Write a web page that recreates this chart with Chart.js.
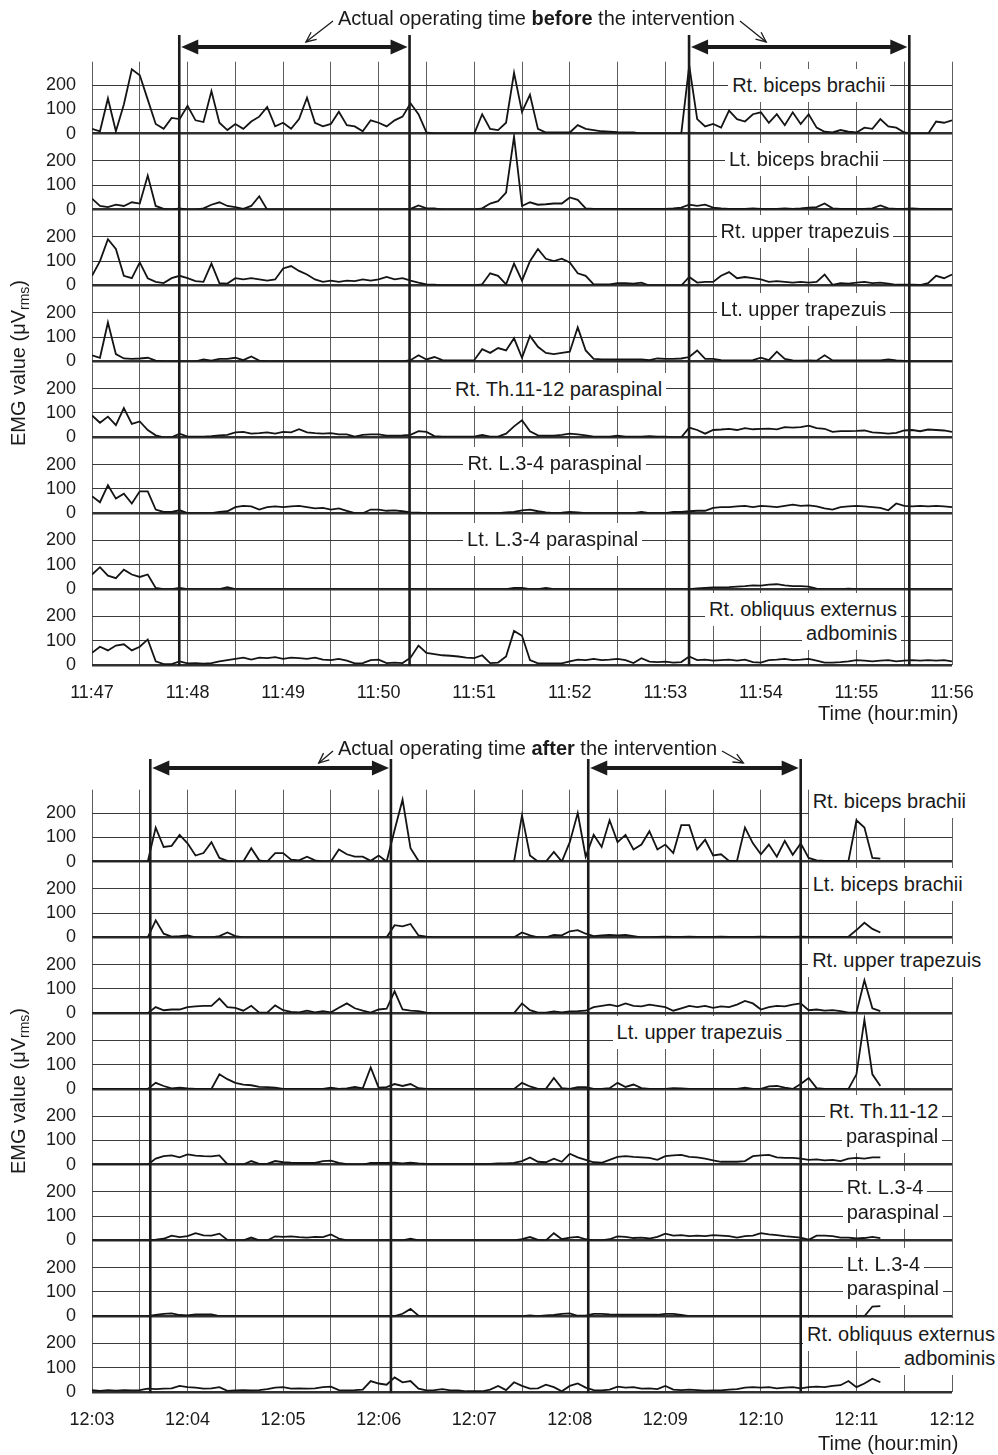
<!DOCTYPE html>
<html>
<head>
<meta charset="utf-8">
<script src="https://cdn.jsdelivr.net/npm/chart.js@4.4.1/dist/chart.umd.min.js"></script>
<style>
html,body{margin:0;padding:0;background:#fff;}
#wrap{position:relative;width:998px;height:1455px;overflow:hidden;font-family:"Liberation Sans",Arial,Helvetica,sans-serif;color:#1a1a1a;}
.panel{position:absolute;left:0;width:998px;}
canvas{display:block;position:absolute;left:0;top:0;}
.lab{position:absolute;background:#fff;font-size:20px;line-height:21px;padding:6px 4px;white-space:nowrap;}
.hdr{position:absolute;font-size:20px;line-height:21px;white-space:nowrap;}
.ttl{position:absolute;font-size:20px;line-height:21px;white-space:nowrap;}
.ytl{position:absolute;font-size:20px;line-height:22px;white-space:nowrap;transform:rotate(-90deg);}
.ytl sub{font-size:14px;vertical-align:-4px;line-height:0;}
</style>
</head>
<body>
<div id="wrap">
  <div class="panel" id="p0" style="top:0;height:728px"><canvas id="c0" width="998" height="728"></canvas></div>
  <div class="panel" id="p1" style="top:728px;height:727px"><canvas id="c1" width="998" height="727"></canvas></div>
</div>
<script>
// ---------------- data ----------------
// samples every 5 s, starting at the first tick label of each panel
const sampleStepSec = 5;
const xTickLabelsBefore = ['11:47','11:48','11:49','11:50','11:51','11:52','11:53','11:54','11:55','11:56'];
const xTickLabelsAfter  = ['12:03','12:04','12:05','12:06','12:07','12:08','12:09','12:10','12:11','12:12'];
const yTickValues = [0, 100, 200];
const yTickLabels = ['0', '100', '200'];
const musclesBefore = [['Rt. biceps brachii'],['Lt. biceps brachii'],['Rt. upper trapezuis'],['Lt. upper trapezuis'],['Rt. Th.11-12 paraspinal'],['Rt. L.3-4 paraspinal'],['Lt. L.3-4 paraspinal'],['Rt. obliquus externus','adbominis']];
const musclesAfter  = [['Rt. biceps brachii'],['Lt. biceps brachii'],['Rt. upper trapezuis'],['Lt. upper trapezuis'],['Rt. Th.11-12','paraspinal'],['Rt. L.3-4','paraspinal'],['Lt. L.3-4','paraspinal'],['Rt. obliquus externus','adbominis']];
// actual operating periods, seconds after the first tick label
const operatingBefore = [[54.8, 199.4], [374.9, 513.2]];
const operatingAfter  = [[36.6, 187.7], [311.6, 445.0]];

const before_RtBiceps = [20,10,145,10,120,265,240,140,40,20,65,60,115,55,48,175,45,15,40,20,50,70,110,30,45,20,60,148,45,30,40,90,35,30,10,55,45,
 30,55,70,125,80,5,0,0,0,0,0,0,80,20,15,45,250,90,160,20,5,5,5,5,35,20,15,10,8,6,5,5,0,0,0,0,
 0,0,280,60,30,40,25,95,60,50,80,88,45,80,35,88,40,80,25,8,5,15,8,5,25,20,60,30,25,5,0,0,0,50,45,55];
const before_LtBiceps = [45,15,10,20,15,30,25,140,15,3,0,5,0,0,5,20,30,15,10,3,15,55,0,0,0,0,0,0,0,0,0,0,0,0,0,0,0,
 0,0,0,3,17,5,5,0,0,0,0,0,5,25,35,70,300,15,30,20,22,25,25,50,40,5,3,3,3,3,3,3,3,3,3,3,
 5,8,20,15,20,8,5,3,3,3,5,3,3,3,5,3,5,8,10,25,5,3,3,3,3,5,17,5,3,3,5,3,3,2,2,2];
const before_RtTrap = [40,100,190,150,40,30,95,30,15,10,30,40,30,18,15,90,10,8,30,25,30,25,20,25,70,80,60,45,25,15,20,15,20,18,25,20,25,
 35,25,30,20,12,5,3,0,0,0,0,0,5,50,40,5,90,20,100,150,110,100,110,95,50,40,5,5,5,10,10,8,12,0,0,0,
 0,0,35,12,15,15,40,55,30,35,30,25,15,18,15,12,15,12,15,45,3,10,8,12,15,10,12,8,3,3,3,2,10,40,30,45];
const before_LtTrap = [25,15,160,30,12,10,12,15,3,0,0,0,0,0,8,3,10,10,15,5,20,3,0,0,0,0,0,0,0,0,0,0,0,0,0,0,0,
 0,0,0,5,25,8,18,5,4,4,4,5,50,35,55,45,95,15,105,60,35,30,35,40,140,45,10,8,8,8,8,8,8,5,12,10,
 10,12,18,45,10,10,5,4,4,4,5,15,5,40,10,4,3,4,3,25,4,4,4,4,4,4,4,8,4,2,0,0,0,0,0,0];
const before_RtTh1112 = [90,60,85,50,120,55,65,30,8,0,0,15,3,3,3,5,8,10,20,22,15,17,20,15,22,20,33,20,17,15,17,12,12,3,10,12,12,
 7,7,8,10,25,22,5,3,3,3,3,3,10,3,3,15,45,70,25,8,7,7,10,15,12,8,3,3,3,7,3,3,3,5,3,3,
 0,0,40,30,15,30,32,35,30,38,33,35,36,33,42,40,42,48,38,35,22,25,25,26,28,20,18,15,18,28,30,25,32,30,28,22];
const before_RtL34 = [70,45,115,60,80,40,90,90,15,5,5,12,0,0,0,0,5,8,25,30,28,15,25,28,25,28,30,25,20,22,15,20,10,0,0,15,15,
 10,12,8,3,2,0,0,0,0,0,0,0,0,0,0,3,5,12,15,8,3,0,2,5,3,0,0,0,0,0,0,0,5,0,0,0,
 5,5,8,10,10,22,25,25,28,30,25,30,28,25,30,35,30,32,28,20,15,25,28,30,28,25,22,12,40,30,28,30,28,30,28,25];
const before_LtL34 = [60,90,55,45,80,60,50,60,5,0,0,5,0,0,0,0,0,8,0,0,0,0,0,0,0,0,0,0,0,0,0,0,0,0,0,0,0,
 0,0,0,0,0,0,0,0,0,0,0,0,0,0,0,0,5,5,0,0,5,0,0,0,0,0,0,0,0,0,0,0,0,0,0,0,
 0,0,0,3,5,7,7,8,10,12,15,14,18,20,15,12,12,10,2,0,0,0,2,0,0,0,0,0,0,0,0,0,0,0,0,0];
const before_RtObl = [50,75,60,80,85,60,75,105,15,4,4,15,7,8,6,8,15,20,25,30,22,30,28,32,25,30,28,25,30,22,20,25,18,7,8,20,22,
 8,10,8,30,80,50,45,40,38,35,30,28,40,8,10,35,140,120,20,7,7,7,7,15,22,20,25,20,22,25,20,8,28,14,12,14,
 10,12,35,20,22,18,20,22,18,22,12,10,20,22,25,20,22,25,18,10,10,12,15,20,18,15,18,20,15,18,20,18,20,18,20,15];

const after_RtBiceps = [0,0,0,0,0,0,0,0,140,60,65,110,75,25,35,80,15,3,0,0,55,5,0,35,35,8,5,20,5,0,0,50,30,20,20,3,25,
 0,130,255,55,3,0,0,0,0,0,0,0,0,0,0,0,0,190,25,0,0,40,0,80,200,20,110,60,170,80,110,50,70,125,50,70,
 35,150,150,50,90,25,30,3,3,140,75,30,70,20,85,28,75,15,5,3,3,3,3,170,140,15,12];
const after_LtBiceps = [0,0,0,0,0,0,0,0,70,15,3,5,8,0,0,0,5,20,5,0,0,0,0,0,0,0,0,0,0,0,0,0,0,0,0,0,0,
 0,50,45,55,8,3,0,0,0,0,0,0,0,0,0,0,0,20,8,0,0,10,8,25,30,15,5,8,10,8,10,5,0,0,2,3,
 2,2,3,2,2,2,3,2,2,2,2,3,2,2,2,2,3,2,2,2,2,2,3,30,60,35,20];
const after_RtTrap = [0,0,0,0,0,0,0,0,25,12,15,15,25,28,30,30,60,25,22,10,30,2,2,32,12,5,3,10,3,8,3,22,40,20,10,2,15,
 18,90,15,10,8,2,0,0,0,0,0,0,0,0,0,0,0,40,12,2,2,7,3,7,8,10,25,30,35,28,40,30,28,35,30,25,
 10,20,30,25,30,22,28,25,35,50,40,15,25,30,28,35,40,12,15,10,12,8,2,2,135,20,8];
const after_LtTrap = [0,0,0,0,0,0,0,0,25,12,2,5,2,0,0,0,60,40,25,18,15,8,7,5,0,0,0,0,0,0,5,0,2,8,2,88,5,
 7,20,12,20,3,0,0,0,0,0,0,0,0,0,0,0,0,25,10,0,0,45,3,0,7,7,0,0,3,25,8,18,3,0,0,0,
 3,2,0,0,0,0,0,0,0,5,0,0,10,12,5,0,20,45,3,0,0,0,0,60,285,60,12];
const after_RtTh1112 = [0,0,0,0,0,0,0,0,25,35,38,30,42,37,35,34,38,2,0,0,15,3,3,15,10,8,7,7,7,15,17,7,2,0,0,7,7,
 7,8,5,8,5,3,2,2,2,2,2,2,2,3,5,5,7,15,30,12,10,25,12,45,30,20,10,8,20,32,35,32,30,28,20,35,
 38,40,32,30,25,18,12,12,12,15,35,38,40,30,28,28,25,20,22,18,20,15,25,28,25,30,30];
const after_RtL34 = [0,0,0,0,0,0,0,0,3,7,20,14,18,30,21,20,28,2,0,0,12,0,0,17,15,17,14,12,15,14,25,8,0,0,0,0,0,
 0,0,0,7,0,0,0,0,0,0,0,0,0,0,0,0,0,5,14,2,0,30,5,12,15,5,0,0,5,17,15,10,12,8,15,28,
 20,22,18,20,18,22,20,18,12,18,20,30,25,22,18,15,12,3,20,20,18,12,12,8,10,15,10];
const after_LtL34 = [0,0,0,0,0,0,0,0,5,10,12,5,3,8,8,8,0,0,0,0,0,0,0,0,0,0,0,0,0,0,0,0,0,0,0,0,0,
 0,0,10,30,2,0,0,0,0,0,0,0,0,0,0,0,0,0,3,0,3,5,10,12,2,2,10,10,8,7,7,7,7,7,6,10,
 10,5,0,0,0,0,0,0,0,0,0,0,0,0,0,0,0,0,0,0,0,0,0,0,0,40,42];
const after_RtObl = [8,5,8,6,8,7,8,14,12,14,15,25,20,18,14,15,20,5,7,8,7,8,12,18,20,14,15,14,15,20,22,8,7,8,10,45,35,
 30,60,40,45,14,7,8,12,7,7,3,3,3,10,25,8,40,25,14,15,30,20,3,25,35,18,8,7,10,22,18,20,14,15,12,25,
 10,8,10,8,6,7,7,10,12,18,20,18,20,15,18,20,15,20,22,20,25,28,45,20,35,55,40];

// ---------------- layout / style ----------------
const FONT = '"Liberation Sans", Arial, Helvetica, sans-serif';
const INK = '#1a1a1a';
const Y_MAX = [296, 312, 312, 312, 312, 312, 312, 312];
const Y_WEIGHT = [72, 75.9, 75.9, 75.9, 75.9, 75.9, 75.9, 75.9];

const labelPosBefore = [
  {t:450.0, v:[198], align:'center'},
  {t:447.0, v:[207], align:'center'},
  {t:447.7, v:[221], align:'center'},
  {t:446.8, v:[214], align:'center'},
  {t:292.9, v:[197], align:'center'},
  {t:290.7, v:[204], align:'center'},
  {t:289.2, v:[204], align:'center'},
  {t:505.5, v:[227,130], align:'right'}
];
const labelPosAfter = [
  {t:452.5, v:[248], align:'left'},
  {t:452.5, v:[216], align:'left'},
  {t:452.2, v:[215], align:'left'},
  {t:329.4, v:[231], align:'left'},
  {t:531.2, v:[219,115], align:'right'},
  {t:473.9, v:[218,115], align:'left'},
  {t:473.9, v:[215,115], align:'left'},
  {t:567.0, v:[235,136], align:'right'}
];

function drawDoubleArrow(ctx, x1, x2, y) {
  const hl = 17, hw = 7.5;
  ctx.lineWidth = 4;
  ctx.beginPath(); ctx.moveTo(x1 + hl - 2, y); ctx.lineTo(x2 - hl + 2, y); ctx.stroke();
  ctx.beginPath(); ctx.moveTo(x1, y); ctx.lineTo(x1 + hl, y - hw); ctx.lineTo(x1 + hl, y + hw); ctx.closePath(); ctx.fill();
  ctx.beginPath(); ctx.moveTo(x2, y); ctx.lineTo(x2 - hl, y - hw); ctx.lineTo(x2 - hl, y + hw); ctx.closePath(); ctx.fill();
}
function drawPointer(ctx, sx, sy, ex, ey) {
  ctx.lineWidth = 1.3;
  ctx.beginPath(); ctx.moveTo(sx, sy); ctx.lineTo(ex, ey); ctx.stroke();
  const a = Math.atan2(ey - sy, ex - sx), L = 11, w = 0.42;
  ctx.beginPath();
  ctx.moveTo(ex - L * Math.cos(a - w), ey - L * Math.sin(a - w));
  ctx.lineTo(ex, ey);
  ctx.lineTo(ex - L * Math.cos(a + w), ey - L * Math.sin(a + w));
  ctx.stroke();
}

const opsPlugin = {
  id: 'ops',
  afterDraw(chart, args, o) {
    const {ctx, chartArea} = chart;
    const xs = chart.scales.x;
    ctx.save();
    ctx.strokeStyle = '#1b1b1b';
    ctx.fillStyle = '#1b1b1b';
    const ends = [];
    o.periods.forEach(([a, b]) => {
      const xa = xs.getPixelForValue(a), xb = xs.getPixelForValue(b);
      ctx.lineWidth = 2.6;
      [xa, xb].forEach(px => {
        ctx.beginPath(); ctx.moveTo(px, o.lineTop); ctx.lineTo(px, chartArea.bottom + 1); ctx.stroke();
      });
      drawDoubleArrow(ctx, xa + 2, xb - 2, o.arrowY);
      ends.push([xa, xb]);
    });
    const p0 = ends[0][0] + (ends[0][1] - ends[0][0]) * o.ptrFrac[0];
    const p1 = ends[1][0] + (ends[1][1] - ends[1][0]) * o.ptrFrac[1];
    drawPointer(ctx, o.hdrLeft - 5, o.headerY + 3, p0, o.arrowY - 5);
    drawPointer(ctx, o.hdrRight + 5, o.headerY + 3, p1, o.arrowY - 5);
    ctx.restore();
  }
};

function makePanel(cfg) {
  const panel = document.getElementById(cfg.panelId);
  const canvas = document.getElementById(cfg.canvasId);

  const hdr = document.createElement('div');
  hdr.className = 'hdr';
  hdr.innerHTML = cfg.headerHTML;
  panel.appendChild(hdr);
  hdr.style.left = cfg.headerLeft + 'px';
  hdr.style.top = (cfg.headerY - hdr.offsetHeight / 2) + 'px';
  const hdrLeft = hdr.offsetLeft, hdrRight = hdr.offsetLeft + hdr.offsetWidth;

  const scales = {
    x: {
      type: 'linear', min: 0, max: 540,
      afterBuildTicks: s => { const t = []; for (let v = 0; v <= 540; v += 30) t.push({value: v}); s.ticks = t; },
      afterFit: s => { s.height = 40; },
      grid: {color: '#5e5e5e', lineWidth: 1, drawTicks: false},
      border: {display: false},
      ticks: {autoSkip: false, maxRotation: 0, minRotation: 0, padding: 17, color: INK,
              font: {family: FONT, size: 18},
              callback: v => (v % 60 === 0 ? cfg.xLabels[v / 60] : '')}
    }
  };
  cfg.series.forEach((vals, k) => {
    scales['y' + k] = {
      type: 'linear', position: 'left', stack: 'emg', stackWeight: Y_WEIGHT[k], weight: 20 - k,
      min: 0, max: Y_MAX[k],
      afterBuildTicks: s => { s.ticks = yTickValues.map(v => ({value: v})); },
      afterFit: s => { s.width = 92; },
      grid: {
        drawTicks: false,
        color: c => (c.tick && c.tick.value === 0 ? '#303030' : '#3a3a3a'),
        lineWidth: c => (c.tick && c.tick.value === 0 ? 2.6 : 1)
      },
      border: {display: false},
      ticks: {autoSkip: false, padding: 16, color: INK, font: {family: FONT, size: 18},
              callback: v => yTickLabels[yTickValues.indexOf(v)]}
    };
  });

  const datasets = cfg.series.map((vals, k) => ({
    data: vals.map((v, i) => ({x: i * sampleStepSec, y: v})),
    yAxisID: 'y' + k,
    borderColor: '#141414',
    borderWidth: 1.8,
    pointRadius: 0,
    tension: 0,
    fill: false
  }));

  const chart = new Chart(canvas, {
    type: 'line',
    data: {datasets},
    options: {
      responsive: false, animation: false, devicePixelRatio: 1, events: [],
      parsing: false, normalized: true,
      layout: {padding: {top: 61.7, right: 46, bottom: 23, left: 0}},
      plugins: {
        legend: {display: false}, tooltip: {enabled: false}, title: {display: false},
        ops: {periods: cfg.periods, lineTop: cfg.lineTop, arrowY: cfg.arrowY, headerY: cfg.headerY,
              hdrLeft, hdrRight, ptrFrac: cfg.ptrFrac}
      },
      scales
    },
    plugins: [opsPlugin]
  });

  // muscle labels
  const xs = chart.scales.x;
  cfg.labelPos.forEach((lp, k) => {
    const ys = chart.scales['y' + k];
    cfg.names[k].forEach((txt, j) => {
      const d = document.createElement('div');
      d.className = 'lab';
      d.textContent = txt;
      panel.appendChild(d);
      const w = d.offsetWidth, h = d.offsetHeight;
      const px = xs.getPixelForValue(lp.t), py = ys.getPixelForValue(lp.v[j]);
      let left;
      if (lp.align === 'center') left = px - w / 2;
      else if (lp.align === 'left') left = px - 4;
      else left = px - w + 4;
      d.style.left = left + 'px';
      d.style.top = (py - h / 2) + 'px';
    });
  });

  // y-axis title
  const yt = document.createElement('div');
  yt.className = 'ytl';
  yt.innerHTML = 'EMG value (\u03bcV<sub>rms</sub>)';
  panel.appendChild(yt);
  const cy = (chart.chartArea.top + chart.chartArea.bottom) / 2;
  yt.style.left = (18 - yt.offsetWidth / 2) + 'px';
  yt.style.top = (cy - yt.offsetHeight / 2) + 'px';

  // x-axis title
  const xt = document.createElement('div');
  xt.className = 'ttl';
  xt.textContent = 'Time (hour:min)';
  panel.appendChild(xt);
  xt.style.left = (958 - xt.offsetWidth) + 'px';
  xt.style.top = (cfg.xTitleY - xt.offsetHeight / 2) + 'px';
  return chart;
}

makePanel({
  panelId: 'p0', canvasId: 'c0',
  series: [before_RtBiceps, before_LtBiceps, before_RtTrap, before_LtTrap, before_RtTh1112, before_RtL34, before_LtL34, before_RtObl],
  names: musclesBefore, labelPos: labelPosBefore,
  xLabels: xTickLabelsBefore, periods: operatingBefore,
  headerHTML: 'Actual operating time <b>before</b> the intervention',
  headerLeft: 338, headerY: 18, arrowY: 47, lineTop: 35, ptrFrac: [0.55, 0.35], xTitleY: 713
});
makePanel({
  panelId: 'p1', canvasId: 'c1',
  series: [after_RtBiceps, after_LtBiceps, after_RtTrap, after_LtTrap, after_RtTh1112, after_RtL34, after_LtL34, after_RtObl],
  names: musclesAfter, labelPos: labelPosAfter,
  xLabels: xTickLabelsAfter, periods: operatingAfter,
  headerHTML: 'Actual operating time <b>after</b> the intervention',
  headerLeft: 338, headerY: 20, arrowY: 40, lineTop: 31, ptrFrac: [0.70, 0.73], xTitleY: 715
});
</script>
</body>
</html>
